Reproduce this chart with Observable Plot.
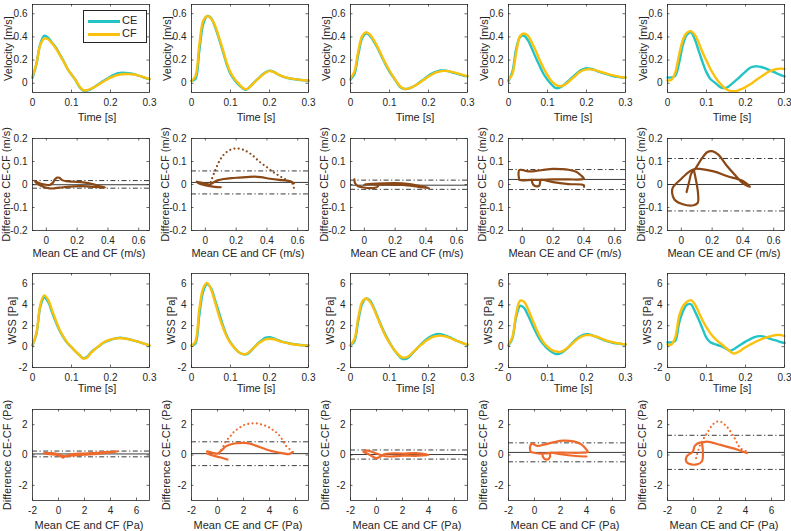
<!DOCTYPE html>
<html><head><meta charset="utf-8">
<script src="https://cdn.jsdelivr.net/npm/d3@7"></script>
<script src="https://cdn.jsdelivr.net/npm/@observablehq/plot@0.6"></script>
<style>
body{margin:0;background:#fff;}
#wrap{position:relative;width:791px;height:531px;overflow:hidden;font-family:"Liberation Sans",Arial,sans-serif;background:#fff;}
#wrap svg{position:absolute;}
.legend{position:absolute;left:83px;top:10px;width:64px;height:33px;border:0.8px solid #262626;background:#fff;box-sizing:border-box;font-size:11px;color:#262626;}
.legend .sw{position:absolute;left:4px;width:32px;height:3px;}
.legend .lb{position:absolute;left:38px;}
</style></head><body><div id="wrap"></div><script>
// ---------- data ----------
const time = [0,0.01,0.02,0.03,0.04,0.05,0.06,0.07,0.08,0.09,0.1,0.11,0.12,0.13,0.14,0.15,0.16,0.17,0.18,0.19,0.2,0.21,0.22,0.23,0.24,0.25,0.26,0.27,0.28,0.29,0.3];

const velCE = [
 [0.046,0.165,0.34,0.41,0.394,0.35,0.31,0.25,0.19,0.123,0.074,0.03,-0.03,-0.063,-0.063,-0.05,-0.03,-0.006,0.017,0.037,0.057,0.074,0.086,0.091,0.089,0.085,0.078,0.068,0.057,0.045,0.035],
 [0.023,0.037,0.28,0.51,0.58,0.565,0.49,0.39,0.28,0.166,0.08,0.03,-0.011,-0.04,-0.057,-0.03,0.006,0.037,0.069,0.094,0.109,0.1,0.08,0.063,0.051,0.043,0.037,0.032,0.028,0.025,0.022],
 [0.03,0.08,0.25,0.39,0.43,0.41,0.36,0.3,0.23,0.16,0.1,0.05,0.0,-0.04,-0.05,-0.045,-0.03,-0.01,0.015,0.04,0.065,0.085,0.1,0.11,0.11,0.105,0.095,0.085,0.075,0.065,0.06],
 [0.02,0.1,0.3,0.4,0.41,0.37,0.3,0.22,0.15,0.08,0.03,-0.01,-0.04,-0.04,-0.02,0.01,0.04,0.07,0.1,0.12,0.13,0.125,0.115,0.1,0.09,0.08,0.07,0.06,0.055,0.05,0.05],
 [0.05,0.05,0.065,0.18,0.34,0.42,0.44,0.38,0.28,0.18,0.094,0.037,0.009,-0.02,-0.04,-0.04,-0.02,0.009,0.037,0.07,0.1,0.13,0.143,0.146,0.14,0.13,0.115,0.1,0.086,0.071,0.06]
];
const velCF = [
 [0.06,0.17,0.33,0.385,0.38,0.345,0.3,0.245,0.185,0.125,0.075,0.03,-0.025,-0.06,-0.06,-0.047,-0.03,-0.01,0.01,0.03,0.048,0.062,0.072,0.078,0.08,0.079,0.075,0.068,0.058,0.047,0.037],
 [0.02,0.06,0.33,0.54,0.58,0.56,0.5,0.405,0.295,0.18,0.095,0.04,0.0,-0.035,-0.052,-0.03,0.004,0.035,0.066,0.09,0.105,0.098,0.08,0.064,0.052,0.044,0.038,0.033,0.029,0.026,0.024],
 [0.04,0.1,0.28,0.41,0.44,0.42,0.37,0.31,0.24,0.17,0.11,0.055,0.005,-0.035,-0.05,-0.045,-0.03,-0.012,0.01,0.035,0.058,0.078,0.093,0.103,0.107,0.105,0.098,0.09,0.08,0.07,0.062],
 [0.03,0.08,0.27,0.41,0.43,0.41,0.35,0.28,0.2,0.13,0.07,0.02,-0.01,-0.025,-0.02,0.0,0.03,0.06,0.09,0.11,0.12,0.12,0.115,0.105,0.095,0.085,0.075,0.065,0.058,0.052,0.05],
 [0.023,0.03,0.094,0.25,0.38,0.437,0.45,0.42,0.35,0.266,0.194,0.123,0.066,0.017,-0.02,-0.049,-0.066,-0.069,-0.063,-0.05,-0.034,-0.014,0.009,0.034,0.057,0.08,0.1,0.114,0.123,0.126,0.123]
];
const wssCE = [
 [0.1,1.2,3.8,4.7,4.3,3.3,2.35,1.5,0.84,0.32,-0.06,-0.45,-0.8,-1.1,-0.97,-0.55,-0.23,0.03,0.32,0.5,0.65,0.77,0.84,0.84,0.77,0.68,0.58,0.48,0.35,0.23,0.1],
 [0.1,0.3,3.0,5.3,6.0,5.6,4.5,3.3,2.1,1.1,0.4,-0.1,-0.5,-0.7,-0.75,-0.5,-0.1,0.3,0.6,0.85,0.9,0.8,0.65,0.5,0.4,0.32,0.25,0.2,0.15,0.12,0.1],
 [0.1,0.5,2.5,4.1,4.6,4.4,3.7,2.8,1.9,1.1,0.4,-0.2,-0.7,-1.1,-1.2,-1.0,-0.6,-0.2,0.2,0.55,0.85,1.05,1.2,1.2,1.1,0.95,0.8,0.6,0.45,0.3,0.15],
 [0.1,0.8,2.9,3.9,3.7,3.0,2.2,1.4,0.7,0.2,-0.2,-0.5,-0.7,-0.7,-0.5,-0.2,0.2,0.6,0.9,1.1,1.2,1.15,1.0,0.85,0.7,0.55,0.45,0.35,0.3,0.25,0.2],
 [0.4,0.4,0.57,2.3,3.4,4.0,4.06,3.4,2.6,1.7,0.83,0.41,0.25,0.13,0.0,-0.19,-0.38,-0.25,0.0,0.25,0.48,0.67,0.86,0.98,1.0,0.92,0.8,0.67,0.57,0.44,0.35]
];
const wssCF = [
 [0.15,1.3,4.0,4.9,4.5,3.5,2.5,1.6,0.9,0.35,-0.05,-0.45,-0.8,-1.15,-1.05,-0.6,-0.25,0.05,0.35,0.55,0.68,0.76,0.8,0.8,0.75,0.67,0.58,0.48,0.36,0.24,0.12],
 [0.1,0.5,3.6,5.6,6.1,5.5,4.3,3.0,1.9,1.0,0.35,-0.1,-0.5,-0.7,-0.7,-0.45,-0.1,0.25,0.5,0.7,0.75,0.7,0.6,0.48,0.38,0.3,0.23,0.18,0.14,0.11,0.1],
 [0.15,0.7,2.8,4.3,4.6,4.3,3.6,2.7,1.8,1.0,0.35,-0.2,-0.65,-1.0,-1.05,-0.9,-0.55,-0.2,0.15,0.45,0.7,0.9,1.0,1.05,1.0,0.9,0.75,0.6,0.45,0.3,0.2],
 [0.2,0.9,3.2,4.4,4.3,3.6,2.7,1.8,1.0,0.4,0.0,-0.3,-0.45,-0.5,-0.4,-0.15,0.15,0.5,0.8,1.0,1.1,1.1,1.0,0.9,0.75,0.6,0.5,0.4,0.32,0.26,0.22],
 [0.2,0.2,0.9,2.95,3.9,4.3,4.45,4.06,3.3,2.5,1.85,1.27,0.83,0.48,0.19,-0.13,-0.44,-0.67,-0.54,-0.32,-0.06,0.16,0.35,0.54,0.7,0.83,0.95,1.05,1.11,1.11,1.0]
];

// Bland-Altman: [mean, difference] paths (solid parts and sparse-dotted parts)
const velLoops = [
 [[[-0.075,0.016],[-0.06,0.01],[-0.04,0.004],[-0.01,0.0],[0.02,-0.002],[0.04,0.006],[0.055,0.022],[0.07,0.03],[0.085,0.029],[0.1,0.02],[0.13,0.014],[0.18,0.012],[0.24,0.009],[0.3,0.002],[0.35,-0.008],[0.38,-0.013],[0.34,-0.012],[0.26,-0.008],[0.18,-0.008],[0.11,-0.012],[0.06,-0.016],[0.02,-0.017],[-0.02,-0.01],[-0.05,0.0],[-0.07,0.01]]],
 [[[-0.055,0.012],[-0.03,0.008],[0.0,0.004],[0.03,0.0],[0.05,0.008],[0.08,0.018],[0.12,0.024],[0.17,0.028],[0.22,0.03],[0.27,0.032],[0.32,0.034],[0.36,0.032],[0.42,0.025],[0.48,0.02],[0.53,0.017],[0.56,0.012],[0.575,0.005]],
  [[-0.05,0.008],[-0.02,0.0],[0.02,-0.006],[0.06,-0.01],[0.1,-0.012]]],
 [[[-0.065,0.022],[-0.06,0.005],[-0.04,-0.008],[-0.01,-0.012],[0.03,-0.016],[0.07,-0.014],[0.09,-0.007],[0.08,0.0],[0.04,0.002],[0.0,0.0],[0.05,0.003],[0.12,0.005],[0.2,0.006],[0.28,0.003],[0.35,-0.005],[0.4,-0.012],[0.42,-0.016],[0.35,-0.01],[0.25,-0.002],[0.15,0.0],[0.08,0.0]]],
 [[[-0.02,0.02],[-0.025,0.045],[-0.02,0.063],[0.0,0.063],[0.03,0.058],[0.08,0.058],[0.15,0.065],[0.2,0.068],[0.25,0.067],[0.3,0.064],[0.35,0.055],[0.38,0.04],[0.4,0.025],[0.38,0.022],[0.3,0.022],[0.2,0.022],[0.12,0.02],[0.06,0.02],[0.0,0.018],[-0.02,0.02]],
  [[0.06,0.02],[0.07,0.0],[0.09,-0.008],[0.11,-0.005],[0.115,0.01],[0.12,0.02],[0.2,0.01],[0.3,0.002],[0.4,-0.003],[0.4,-0.01]]],
 [[[0.034,-0.033],[0.05,0.01],[0.066,0.05],[0.09,0.068],[0.13,0.11],[0.167,0.14],[0.2,0.145],[0.24,0.13],[0.29,0.086],[0.35,0.04],[0.4,0.005],[0.445,-0.01],[0.4,0.015],[0.3,0.036],[0.21,0.057],[0.12,0.068],[0.09,0.068],[0.056,0.058],[0.0,0.025],[-0.056,-0.014],[-0.06,-0.036],[-0.045,-0.065],[0.01,-0.086],[0.08,-0.09],[0.106,-0.08],[0.108,-0.036],[0.09,0.036],[0.08,0.065]]]
];
const velDotted = [
 [],
 [[0.035,0.01],[0.06,0.055],[0.09,0.1],[0.12,0.13],[0.16,0.15],[0.2,0.157],[0.25,0.15],[0.3,0.13],[0.35,0.1],[0.4,0.075],[0.45,0.05],[0.5,0.03],[0.55,0.012],[0.57,0.0],[0.575,-0.015]],
 [], [], []
];
const velMean  = [-0.001, 0.009, -0.003, 0.022, 0.0];
const velUpper = [0.017, 0.059, 0.019, 0.065, 0.113];
const velLower = [-0.016, -0.041, -0.021, -0.022, -0.115];

const wssLoops = [
 [[[-1.1,0.1],[-0.7,0.05],[-0.2,0.02],[0.2,-0.1],[0.35,-0.18],[0.5,-0.08],[1,0.05],[2,0.1],[3,0.15],[4,0.2],[4.6,0.24],[4,0.17],[3,0.08],[2,0.02],[1,-0.04],[0.4,-0.08],[0,0.05],[-0.5,0.12],[-1.1,0.13]]],
 [[[-0.8,0.24],[-0.4,0.15],[0,0.1],[0.3,0.3],[0.64,0.57],[1.3,0.76],[2,0.8],[2.5,0.75],[3,0.6],[4,0.3],[5,0.12],[5.5,0.06],[5.8,0.2]],
  [[-0.8,0.1],[-0.3,-0.05],[0.2,-0.15],[0.77,-0.3]]],
 [[[-1,0.2],[-0.6,0.05],[-0.3,-0.1],[0,-0.2],[0.3,-0.1],[0.6,0.05],[1,0.1],[2,0.1],[3,0.12],[4,0.0],[3.2,-0.05],[2,-0.05],[1,-0.1],[0.5,-0.05],[0,0.1],[-0.5,0.25],[-0.9,0.3]]],
 [[[-0.3,0.2],[-0.35,0.5],[-0.2,0.75],[0.2,0.6],[0.8,0.7],[1.5,0.85],[2.2,0.95],[3,0.9],[3.6,0.7],[4,0.35],[4.1,0.2],[3.5,0.15],[2.5,0.15],[1.5,0.15],[0.8,0.1],[0.3,0.1],[-0.3,0.2]],
  [[0.6,0.1],[0.7,-0.2],[1.0,-0.3],[1.2,-0.1],[1.2,0.15],[2,0.05],[3,-0.05],[4,-0.1]]],
 [[[4.1,0.13],[3.4,0.35],[2.07,0.67],[1.03,0.88],[0.65,0.82],[0.4,0.8],[0.1,0.6],[-0.05,0.23],[-0.52,-0.09],[-0.57,-0.41],[-0.39,-0.56],[0.26,-0.62],[0.65,-0.41],[0.72,0.24],[0.65,0.82]]]
];
const wssDotted = [
 [],
 [[0.13,0.09],[0.4,0.5],[0.64,0.89],[1,1.25],[1.28,1.54],[1.7,1.8],[2.05,1.98],[2.5,2.07],[2.95,2.09],[3.4,2.0],[3.85,1.87],[4.25,1.65],[4.6,1.43],[5,1.0],[5.26,0.6],[5.6,0.35],[5.8,0.25]],
 [], [],
 [[0.2,-0.2],[0.52,0.67],[1.03,1.42],[1.55,2.06],[2.0,2.22],[2.58,1.85],[3.1,1.2],[3.6,0.45],[4.07,0.24]]
];
const wssMean  = [0.07, 0.09, 0.03, 0.17, 0.17];
const wssUpper = [0.26, 0.87, 0.33, 0.8, 1.3];
const wssLower = [-0.12, -0.7, -0.27, -0.45, -0.95];

const tickTime = [0, 0.1, 0.2, 0.3];
const tickVel = [0, 0.2, 0.4, 0.6];
const tickVelDiff = [-0.2, -0.1, 0, 0.1, 0.2];
const tickWss = [-2, 0, 2, 4, 6];
const tickWssDiff = [-2, 0, 2];
const tickWssMean = [-2, 0, 2, 4, 6];

// ---------- style / layout ----------
const cCE = "#22C4C6", cCF = "#FCC10C", cBrown = "#8A4816", cOrange = "#EE6A2C";
const colLeft = [0, 158.75, 317.5, 476.25, 635];
const rows = [
 {top:0,   height:125, mt:4,  mb:33, xd:[0,0.3],       yd:[-0.08,0.68], xt:tickTime,    yt:tickVel,     xl:"Time [s]",             yl:"Velocity [m/s]",          xdy:25, xdx:6,  ylx:8},
 {top:125, height:135, mt:13, mb:30, xd:[-0.09,0.67],  yd:[-0.2,0.2],   xt:tickVel,     yt:tickVelDiff, xl:"Mean CE and CF (m/s)", yl:"Difference CE-CF (m/s)",  xdy:23, xdx:-2, ylx:6},
 {top:260, height:135, mt:13, mb:28, xd:[0,0.3],       yd:[-2,7],       xt:tickTime,    yt:tickWss,     xl:"Time [s]",             yl:"WSS [Pa]",                xdy:21, xdx:6,  ylx:12},
 {top:395, height:136, mt:14, mb:31, xd:[-2,7],        yd:[-3,3],       xt:tickWssMean, yt:tickWssDiff, xl:"Mean CE and CF (Pa)",  yl:"Difference CE-CF (Pa)",   xdy:25, xdx:-2, ylx:7}
];
const fmt = d => String(d);
const wrap = document.getElementById("wrap");
const dashDot = "5,2.5,1.2,2.5";
const W = 158, ML = 32, MR = 9, TK = 2.5;

function panel(r, c, marks) {
  const R = rows[r];
  const fh = R.height - R.mt - R.mb, fw = W - ML - MR;
  const tk = {stroke: "#262626", strokeWidth: 0.7};
  const svg = Plot.plot({
    width: W, height: R.height,
    marginLeft: ML, marginRight: MR, marginTop: R.mt, marginBottom: R.mb,
    style: {fontFamily: '"Liberation Sans", Arial, sans-serif', fontSize: "10px", color: "#262626", background: "transparent", overflow: "visible"},
    x: {domain: R.xd}, y: {domain: R.yd},
    marks: [
      ...marks,
      // inward ticks on all four sides (MATLAB box style)
      Plot.ruleX(R.xt, {x: d => d, insetTop: fh - TK, ...tk}),
      Plot.ruleX(R.xt, {x: d => d, insetBottom: fh - TK, ...tk}),
      Plot.ruleY(R.yt, {y: d => d, insetRight: fw - TK, ...tk}),
      Plot.ruleY(R.yt, {y: d => d, insetLeft: fw - TK, ...tk}),
      Plot.frame({stroke: "#262626", strokeWidth: 0.8}),
      Plot.axisX({ticks: R.xt, tickFormat: fmt, tickSize: 0, tickPadding: 6, label: null}),
      Plot.axisY({ticks: R.yt, tickFormat: fmt, tickSize: 0, tickPadding: 5, label: null}),
      Plot.text([R.xl], {text: d => d, frameAnchor: "bottom", textAnchor: "middle", lineAnchor: "middle", dy: R.xdy, dx: R.xdx, fontSize: 11, fill: "#262626"}),
      Plot.text([R.yl], {text: d => d, frameAnchor: "left", textAnchor: "middle", lineAnchor: "middle", rotate: -90, dx: R.ylx - 32, fontSize: 11, fill: "#262626"})
    ]
  });
  svg.style.left = colLeft[c] + "px";
  svg.style.top = R.top + "px";
  wrap.append(svg);
}

function seriesMarks(ce, cf) {
  const a = time.map((t, i) => ({t, v: ce[i]}));
  const b = time.map((t, i) => ({t, v: cf[i]}));
  return [
    Plot.line(a, {x: "t", y: "v", stroke: cCE, strokeWidth: 2.4, curve: "catmull-rom"}),
    Plot.line(b, {x: "t", y: "v", stroke: cCF, strokeWidth: 2.4, curve: "catmull-rom"})
  ];
}
function baMarks(loops, dotted, mean, up, lo, color) {
  const m = [
    Plot.ruleY([mean], {stroke: "#3a3a3a", strokeWidth: 1}),
    Plot.ruleY([up, lo], {stroke: "#3a3a3a", strokeWidth: 1, strokeDasharray: dashDot})
  ];
  for (const path of loops) {
    m.push(Plot.line(path, {x: d => d[0], y: d => d[1], stroke: color, strokeWidth: 2.2, curve: "catmull-rom", strokeLinejoin: "round"}));
  }
  if (dotted.length) {
    m.push(Plot.line(dotted, {x: d => d[0], y: d => d[1], stroke: color, strokeWidth: 2.2, curve: "catmull-rom", strokeDasharray: "0,4.3", strokeLinecap: "round"}));
  }
  return m;
}

for (let c = 0; c < 5; c++) {
  panel(0, c, seriesMarks(velCE[c], velCF[c]));
  panel(1, c, baMarks(velLoops[c], velDotted[c], velMean[c], velUpper[c], velLower[c], cBrown));
  panel(2, c, seriesMarks(wssCE[c], wssCF[c]));
  panel(3, c, baMarks(wssLoops[c], wssDotted[c], wssMean[c], wssUpper[c], wssLower[c], cOrange));
}

// legend (first panel)
const lg = document.createElement("div");
lg.className = "legend";
const labels = ["CE", "CF"], colors = [cCE, cCF];
labels.forEach((name, i) => {
  const sw = document.createElement("div");
  sw.className = "sw"; sw.style.top = (9 + i * 13) + "px"; sw.style.background = colors[i];
  const lb = document.createElement("div");
  lb.className = "lb"; lb.style.top = (3 + i * 13) + "px"; lb.textContent = name;
  lg.append(sw, lb);
});
wrap.append(lg);
</script></body></html>
